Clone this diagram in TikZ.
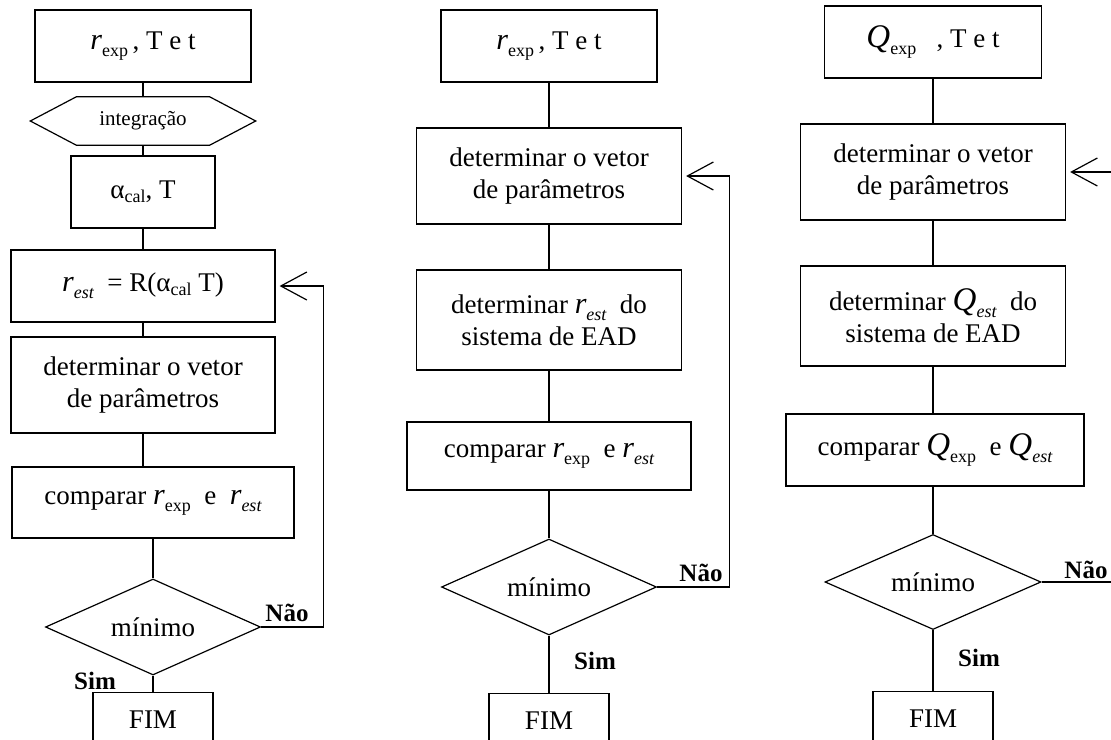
\documentclass[tikz,border=0pt]{standalone}
\usepackage{fontspec}
\setmainfont{Liberation Serif}
\usetikzlibrary{shapes.geometric,arrows.meta}
\newcommand\vr{{\fontsize{30}{30}\selectfont\itshape r}}
\newcommand\vq{{\fontsize{33}{33}\selectfont\itshape Q}}
\newcommand\lo[1]{\raisebox{-7pt}{\fontsize{18}{18}\selectfont #1}}
\newcommand\loi[1]{\raisebox{-7pt}{\fontsize{18}{18}\selectfont\itshape #1}}
\newcommand\loa[1]{\raisebox{-4pt}{\fontsize{18}{18}\selectfont #1}}
\begin{document}
\begin{tikzpicture}[x=1pt,y=-1pt,
  every node/.style={inner sep=0pt},
  line/.style={line width=1.2pt},
  proc/.style={draw,line width=1.2pt,align=center,font=\fontsize{27}{32}\selectfont},
  fim/.style={draw,line width=1.2pt,anchor=north,minimum width=120,text height=36pt,text depth=40pt,font=\fontsize{27}{32}\selectfont},
  deci/.style={draw,line width=1.2pt,diamond,shape aspect=2.2,font=\fontsize{27}{32}\selectfont},
  lbl/.style={font=\fontsize{25}{25}\selectfont\bfseries},
  loop/.style={line width=1.2pt,-{Straight Barb[length=26pt,width=28pt,line width=1.2pt]}}]
\clip (0,0) rectangle (1111,739);
\fill[white] (0,0) rectangle (1111,739);
% ---------- left column ----------
\node[proc,minimum width=216,minimum height=72] (L1) at (143,46) {\vr\lo{exp}\,, T e t};
\node[minimum width=225,minimum height=48,font=\fontsize{21}{21}\selectfont] (Lh) at (143,121) {integração};
\draw[line] (Lh.west) -- ([xshift=46]Lh.north west) -- ([xshift=-46]Lh.north east) -- (Lh.east) -- ([xshift=-46]Lh.south east) -- ([xshift=46]Lh.south west) -- cycle;
\node[proc,minimum width=144,minimum height=72] (L3) at (143,192) {α\loa{cal}, T};
\node[proc,minimum width=264,minimum height=72] (L4) at (143,286) {\vr\loi{est}\ \ = R(α\loa{cal} T)};
\node[proc,minimum width=264,minimum height=96] (L5) at (143,385) {determinar o vetor\\de parâmetros};
\node[proc,minimum width=282,minimum height=71] (L6) at (153,502.5) {comparar \vr\lo{exp}\ \ e\ \ \vr\loi{est}};
\node[deci,minimum width=215,minimum height=96] (Ld) at (153,627) {mínimo};
\node[fim] (Lf) at (153,692) {FIM};
\node[lbl] (Ln) at (287,613) {Não};
\node[lbl] (Ls) at (95,681) {Sim};
\draw[line] (L1.south) -- (Lh.north);
\draw[line] (Lh.south) -- (L3.north);
\draw[line] (L3.south) -- (L4.north);
\draw[line] (L4.south) -- (L5.north);
\draw[line] (L5.south) -- (L5.south |- L6.north);
\draw[line] (L6.south) -- (Ld.north);
\draw[line] (Ld.south) -- (Lf.north);
\draw[loop] (Ld.east) -- ++(62,0) |- ([xshift=4pt]L4.east);
% ---------- middle column ----------
\node[proc,minimum width=216,minimum height=72] (M1) at (549,46) {\vr\lo{exp}\,, T e t};
\node[proc,minimum width=265,minimum height=96] (M2) at (549,176) {determinar o vetor\\de parâmetros};
\node[proc,minimum width=265,minimum height=100] (M3) at (549,320) {determinar \vr\loi{est}\ \ do\\sistema de EAD};
\node[proc,minimum width=284,minimum height=68] (M4) at (549,456) {comparar \vr\lo{exp}\ \ e \vr\loi{est}};
\node[deci,minimum width=215,minimum height=96] (Md) at (549,587) {mínimo};
\node[fim] (Mf) at (549,693) {FIM};
\node[lbl] (Mn) at (701,573) {Não};
\node[lbl] (Ms) at (595,661) {Sim};
\draw[line] (M1.south) -- (M2.north);
\draw[line] (M2.south) -- (M3.north);
\draw[line] (M3.south) -- (M4.north);
\draw[line] (M4.south) -- (Md.north);
\draw[line] (Md.south) -- (Mf.north);
\draw[loop] (Md.east) -- ++(72,0) |- ([xshift=4pt]M2.east);
% ---------- right column ----------
\node[proc,minimum width=217,minimum height=72] (R1) at (933,42) {\vq\lo{exp}\ \ \ , T e t};
\node[proc,minimum width=265,minimum height=96] (R2) at (933,172) {determinar o vetor\\de parâmetros};
\node[proc,minimum width=265,minimum height=100] (R3) at (933,316) {determinar \vq\loi{est}\ \ do\\sistema de EAD};
\node[proc,minimum width=298,minimum height=72] (R4) at (935,450) {comparar \vq\lo{exp}\ \ e \vq\loi{est}};
\node[deci,minimum width=216,minimum height=95] (Rd) at (933,582) {mínimo};
\node[fim] (Rf) at (933,691) {FIM};
\node[lbl] (Rn) at (1086,570) {Não};
\node[lbl] (Rs) at (979,658) {Sim};
\draw[line] (R1.south) -- (R2.north);
\draw[line] (R2.south) -- (R3.north);
\draw[line] (R3.south) -- (R3.south |- R4.north);
\draw[line] (R3.south |- R4.south) -- (Rd.north);
\draw[line] (Rd.south) -- (Rf.north);
\draw[loop] (Rd.east) -- ++(90,0) |- ([xshift=4pt]R2.east);
\end{tikzpicture}
\end{document}
